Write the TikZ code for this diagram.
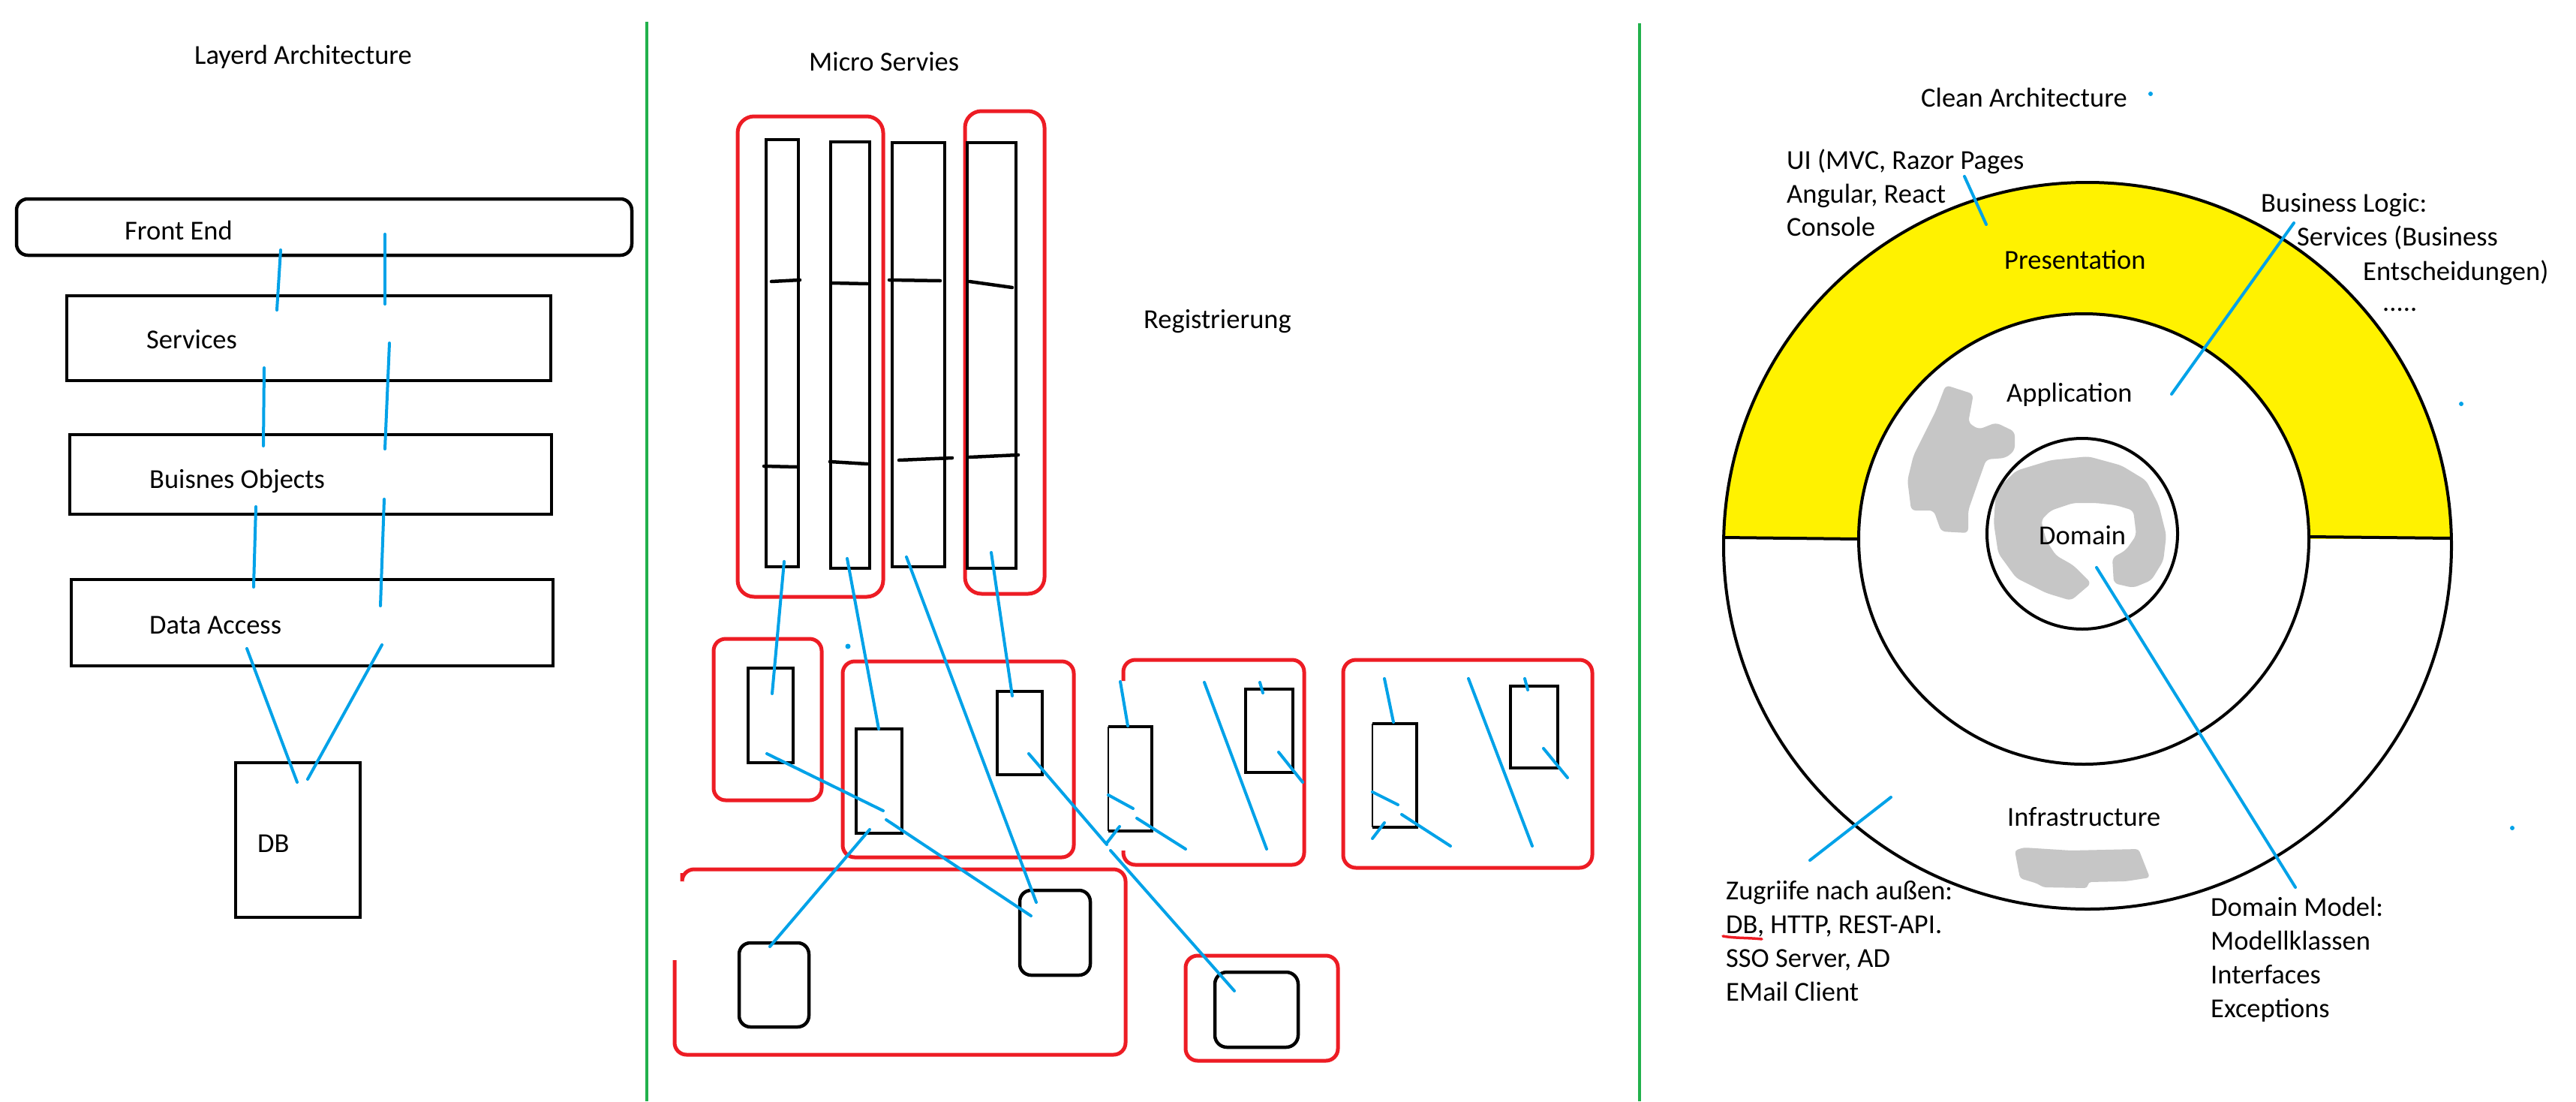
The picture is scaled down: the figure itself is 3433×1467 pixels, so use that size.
\documentclass[tikz,border=0pt]{standalone}
\usepackage{fontspec}
\setmainfont{Carlito}
\definecolor{pblue}{RGB}{0,162,232}
\definecolor{pred}{RGB}{237,28,36}
\definecolor{pgreen}{RGB}{34,177,76}
\definecolor{pyellow}{RGB}{255,242,0}
\definecolor{psmudge}{RGB}{198,198,198}
\tikzset{
  blk/.style={draw=black, line width=4.5pt},
  rbox/.style={draw=pred, line width=5pt, rounded corners=#1},
  rbox/.default=16pt,
  conn/.style={draw=pblue, line width=4pt, line cap=round},
  ring/.style={draw=black, line width=4pt},
  lbl/.style={anchor=base west, inner sep=0pt, font=\fontsize{36.5pt}{45pt}\selectfont},
  dotb/.style={fill=pblue},
}
\begin{document}
\begin{tikzpicture}[x=1pt,y=-1pt]
\useasboundingbox (0,0) rectangle (3433,1467);
\fill[white] (0,0) rectangle (3433,1467);

% separators
\draw[pgreen, line width=4.5pt] (862,29) -- (862,1467);
\draw[pgreen, line width=4.5pt] (2185,31) -- (2185,1467);

% ===== Layered architecture =====
\node[lbl] (tlay) at (259,85) {Layerd Architecture};
\draw[blk, rounded corners=15pt] (22,265) rectangle (842,340);
\node[lbl] (tfe) at (166,319) {Front End};
\draw[blk] (89,394) rectangle (734,507);
\node[lbl] (tsv) at (195,464) {Services};
\draw[blk] (93,579) rectangle (735,685);
\node[lbl] (tbo) at (199,650) {Buisnes Objects};
\draw[blk] (95,772) rectangle (737,887);
\node[lbl] (tda) at (199,844) {Data Access};
\draw[blk] (314,1016) rectangle (480,1222);
\node[lbl] (tdb) at (343,1135) {DB};

\draw[conn] (374,333) -- (369,413);
\draw[conn] (513,312) -- (513,405);
\draw[conn] (519,457) -- (513,598);
\draw[conn] (352,490) -- (351,594);
\draw[conn] (341,675) -- (338,782);
\draw[conn] (512,665) -- (507,807);
\draw[conn] (329,864) -- (396,1042);
\draw[conn] (509,859) -- (410,1038);

% ===== Micro services =====
\node[lbl] (tms) at (1078,94) {Micro Servies};
\node[lbl] (treg) at (1524,437) {Registrierung};

\draw[rbox=22pt] (983,155) rectangle (1177,795);
\draw[rbox=22pt] (1286,148) rectangle (1392,791);
\draw[blk] (1021,186) rectangle (1064,755);
\draw[blk] (1107,189) rectangle (1159,757);
\draw[blk] (1189,190) rectangle (1259,755);
\draw[blk] (1289,190) rectangle (1354,757);
\begin{scope}[line width=4.5pt, line cap=round]
\draw (1028,375) -- (1066,373);
\draw (1018,621) -- (1062,622);
\draw (1108,377) -- (1156,378);
\draw (1106,615) -- (1156,618);
\draw (1185,373) -- (1253,374);
\draw (1198,613) -- (1269,610);
\draw (1292,375) -- (1349,383);
\draw (1292,609) -- (1357,606);
\end{scope}

% lower groups
\draw[rbox] (951,851) rectangle (1095,1066);
\draw[blk] (997,890) rectangle (1057,1016);
\draw[rbox] (1123,881) rectangle (1431,1142);
\draw[blk] (1141,971) rectangle (1202,1110);
\draw[blk] (1329,921) rectangle (1389,1032);

\draw[rbox] (1497,907) -- (1497,879) -- (1738,879) -- (1738,1152) -- (1497,1152) -- (1497,1133);
\draw[blk] (1477,968) -- (1535,968) -- (1535,1107) -- (1477,1107);
\draw[line width=1.5pt] (1477,968) -- (1477,1107);
\draw[blk] (1660,918) rectangle (1723,1029);

\draw[rbox=17pt] (1790,879) rectangle (2122,1156);
\draw[blk] (1829,964) -- (1888,964) -- (1888,1102) -- (1829,1102);
\draw[line width=1.5pt] (1829,964) -- (1829,1102);
\draw[blk] (2013,914) rectangle (2076,1023);

\draw[rbox] (909,1163) -- (909,1158) -- (1500,1158) -- (1500,1405) -- (899,1405) -- (899,1279);
\draw[blk, rounded corners=15pt] (985,1256) rectangle (1078,1368);
\draw[blk, rounded corners=15pt] (1359,1186) rectangle (1453,1299);

\draw[rbox] (1580,1273) rectangle (1783,1413);
\draw[blk, rounded corners=16pt] (1619,1295) rectangle (1730,1395);

\fill[dotb] (1130,861) circle[radius=3.5];

\draw[conn] (1045,748) -- (1029,924);
\draw[conn] (1129,744) -- (1171,971);
\draw[conn] (1208,742) -- (1381,1202);
\draw[conn] (1321,736) -- (1349,927);
\draw[conn] (1022,1004) -- (1177,1080);
\draw[conn] (1181,1092) -- (1374,1220);
\draw[conn] (1159,1105) -- (1026,1261);
\draw[conn] (1371,1004) -- (1475,1125);
\draw[conn] (1480,1133) -- (1645,1320);

\draw[conn] (1493,908) -- (1503,967);
\draw[conn] (1477,1059) -- (1510,1077);
\draw[conn] (1515,1090) -- (1580,1131);
\draw[conn] (1492,1101) -- (1475,1123);
\draw[conn] (1605,909) -- (1688,1131);
\draw[conn] (1679,909) -- (1683,923);
\draw[conn] (1704,1002) -- (1736,1042);

\draw[conn] (1845,904) -- (1857,962);
\draw[conn] (1829,1055) -- (1863,1072);
\draw[conn] (1868,1085) -- (1933,1127);
\draw[conn] (1845,1096) -- (1829,1117);
\draw[conn] (1957,904) -- (2042,1127);
\draw[conn] (2032,904) -- (2036,919);
\draw[conn] (2057,997) -- (2089,1036);

% ===== Clean architecture =====
\begin{scope}
\clip (2250,0) rectangle (3400,717);
\fill[pyellow, even odd rule] (2782,727) ellipse[x radius=485, y radius=484] (2777,718) circle[radius=300];
\end{scope}

% smudges
\fill[psmudge, rounded corners=6pt] (2593,513) -- (2630,525) -- (2623,563) -- (2637,572) -- (2660,563) -- (2685,575) -- (2685,600) -- (2673,610) -- (2647,612) -- (2637,640) -- (2623,680) -- (2623,710) -- (2587,708) -- (2577,680) -- (2547,680) -- (2542,640) -- (2550,607) -- (2567,573) -- (2580,547) -- cycle;
\fill[psmudge, rounded corners=6pt] (2660,653) -- (2687,627) -- (2733,613) -- (2783,608) -- (2827,620) -- (2860,640) -- (2877,673) -- (2887,713) -- (2883,747) -- (2867,773) -- (2843,783) -- (2817,777) -- (2815,743) -- (2833,733) -- (2847,713) -- (2843,680) -- (2820,673) -- (2793,670) -- (2763,670) -- (2733,680) -- (2720,693) -- (2727,720) -- (2740,740) -- (2763,753) -- (2787,777) -- (2760,800) -- (2727,790) -- (2687,770) -- (2663,737) -- (2657,697) -- cycle;
\fill[psmudge, rounded corners=4pt] (2685,1133) -- (2697,1129) -- (2760,1133) -- (2850,1131) -- (2865,1169) -- (2833,1174) -- (2783,1175) -- (2782,1183) -- (2723,1182) -- (2715,1177) -- (2692,1170) -- cycle;

\draw[ring] (2782,727) ellipse[x radius=485, y radius=484];
\draw[ring] (2777,718) circle[radius=300];
\draw[ring] (2775,711) circle[radius=127];
\draw[ring] (2297,716) -- (2476,718);
\draw[ring] (3077,715) -- (3267,717);

\node[lbl] (tca) at (2560,142) {Clean Architecture};
\fill[dotb] (2866,125) circle[radius=3];
\node[lbl] (tui1) at (2381,225) {UI (MVC, Razor Pages};
\node[lbl] (tui2) at (2381,270) {Angular, React};
\node[lbl] (tui3) at (2381,314) {Console};
\draw[conn] (2618,235) -- (2647,299);
\node[lbl] (tpres) at (2671,358) {Presentation};
\node[lbl] (tbl1) at (3013,282) {Business Logic:};
\node[lbl] (tbl2) at (3061,327) {Services (Business};
\node[lbl] (tbl3) at (3149,373) {Entscheidungen)};
\node[lbl] (tbl4) at (3175,414) {.....};
\draw[conn] (3057,297) -- (2894,525);
\node[lbl] (tapp) at (2674,535) {Application};
\fill[dotb] (3280,538) circle[radius=3];
\node[lbl] (tdom) at (2717,725) {Domain};
\draw[conn] (2794,756) -- (3059,1182);
\node[lbl] (tinf) at (2675,1100) {Infrastructure};
\draw[conn] (2520,1062) -- (2412,1146);
\node[lbl] (tz1) at (2300,1198) {Zugriife nach außen:};
\node[lbl] (tz2) at (2300,1243) {DB, HTTP, REST-API.};
\node[lbl] (tz3) at (2300,1288) {SSO Server, AD};
\node[lbl] (tz4) at (2300,1333) {EMail Client};
\draw[pred, line width=3.5pt, line cap=round] (2296,1247) .. controls (2312,1250) and (2330,1249) .. (2348,1251);
\node[lbl] (tdm1) at (2946,1220) {Domain Model:};
\node[lbl] (tdm2) at (2946,1265) {Modellklassen};
\node[lbl] (tdm3) at (2946,1310) {Interfaces};
\node[lbl] (tdm4) at (2946,1355) {Exceptions};
\fill[dotb] (3348,1103) circle[radius=3];
\end{tikzpicture}
\end{document}
